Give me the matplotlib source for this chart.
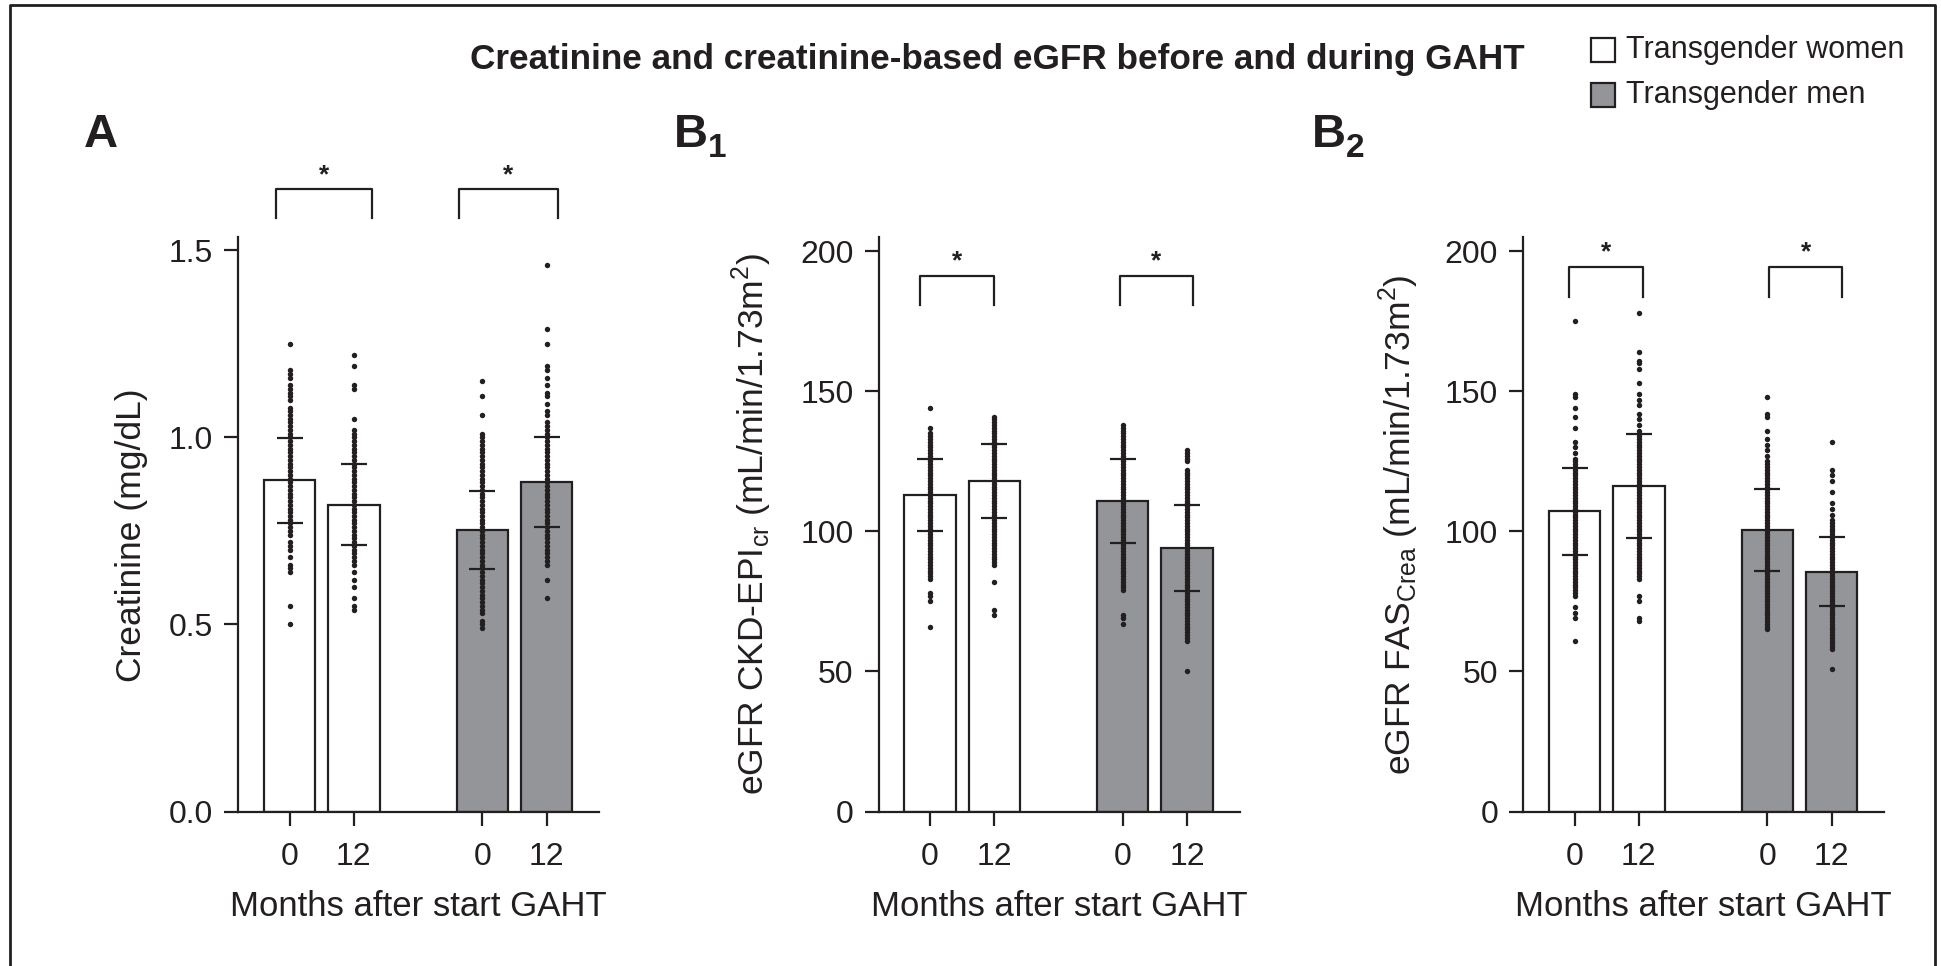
import matplotlib
matplotlib.use("Agg")
import matplotlib.pyplot as plt
from matplotlib.patches import Rectangle
from matplotlib.lines import Line2D

plt.rcParams['font.family'] = ['Liberation Sans', 'DejaVu Sans']
plt.rcParams['mathtext.fontset'] = 'custom'
plt.rcParams['mathtext.rm'] = 'Liberation Sans'

W, H = 1941, 966
INK = '#231f20'
GREY = '#939598'

# ---- data ----
groups = ["0", "12", "0", "12"]
positions = [0, 1, 3, 4]
colors = ['white', 'white', GREY, GREY]

crea_mean = [0.885, 0.82, 0.753, 0.881]
crea_sd = [0.113, 0.108, 0.104, 0.120]
ckd_mean = [113.0, 118.0, 111.0, 94.0]
ckd_sd = [13.0, 13.3, 15.0, 15.3]
fas_mean = [107.2, 116.3, 100.5, 85.6]
fas_sd = [15.5, 18.6, 14.8, 12.3]

crea_tw0 = [1.25, 1.18, 1.17, 1.16, 1.14, 1.13, 1.12, 1.11, 1.10, 1.08, 1.07, 1.06, 1.05, 1.04,
            1.03, 1.02, 1.01, 1.00, 0.99, 0.98, 0.97, 0.96, 0.95, 0.94, 0.93, 0.92, 0.91, 0.90,
            0.89, 0.88, 0.87, 0.86, 0.85, 0.84, 0.83, 0.82, 0.81, 0.80, 0.79, 0.78, 0.77, 0.76,
            0.75, 0.74, 0.72, 0.71, 0.70, 0.68, 0.66, 0.65, 0.64, 0.55, 0.50]
crea_tw12 = [1.22, 1.19, 1.14, 1.13, 1.05, 1.02, 1.01, 1.00, 0.99, 0.98, 0.97, 0.96, 0.95, 0.94,
             0.93, 0.92, 0.91, 0.90, 0.89, 0.88, 0.87, 0.86, 0.85, 0.84, 0.83, 0.82, 0.81, 0.80,
             0.79, 0.78, 0.77, 0.76, 0.75, 0.74, 0.73, 0.72, 0.71, 0.70, 0.69, 0.68, 0.67, 0.66,
             0.64, 0.62, 0.60, 0.57, 0.55, 0.54]
crea_tm0 = [1.15, 1.11, 1.06, 1.01, 1.00, 0.99, 0.98, 0.97, 0.96, 0.95, 0.94, 0.93, 0.92, 0.91,
            0.90, 0.89, 0.88, 0.87, 0.86, 0.85, 0.84, 0.83, 0.82, 0.81, 0.80, 0.79, 0.78, 0.77,
            0.76, 0.75, 0.74, 0.73, 0.72, 0.71, 0.70, 0.69, 0.68, 0.67, 0.66, 0.65, 0.64, 0.63,
            0.62, 0.61, 0.60, 0.59, 0.58, 0.57, 0.56, 0.55, 0.54, 0.53, 0.51, 0.50, 0.49]
crea_tm12 = [1.46, 1.29, 1.25, 1.19, 1.18, 1.16, 1.14, 1.12, 1.11, 1.09, 1.07, 1.06, 1.04, 1.03,
             1.02, 1.01, 1.00, 0.99, 0.98, 0.97, 0.96, 0.95, 0.94, 0.93, 0.92, 0.91, 0.90, 0.89,
             0.88, 0.87, 0.86, 0.85, 0.84, 0.83, 0.82, 0.81, 0.80, 0.79, 0.78, 0.77, 0.76, 0.75,
             0.74, 0.73, 0.72, 0.71, 0.70, 0.69, 0.68, 0.67, 0.66, 0.62, 0.57]

ckd_tw0 = [144, 137, 135, 134, 133, 132, 131, 130, 129, 128, 127, 126, 125, 124, 123, 122, 121,
           120, 119, 118, 117, 116, 115, 114, 113, 112, 111, 110, 109, 108, 107, 106, 105, 104,
           103, 102, 101, 100, 99, 98, 97, 96, 95, 94, 93, 92, 91, 90, 89, 88, 87, 86, 85, 84,
           83, 78, 77, 75, 66]
ckd_tw12 = [141, 140, 139, 138, 137, 136, 135, 134, 133, 132, 131, 130, 129, 128, 127, 126, 125,
            124, 123, 122, 121, 120, 119, 118, 117, 116, 115, 114, 113, 112, 111, 110, 109, 108,
            107, 106, 105, 104, 103, 102, 101, 100, 99, 98, 97, 96, 95, 94, 93, 92, 91, 90, 89,
            88, 82, 72, 70]
ckd_tm0 = [138, 137, 136, 135, 134, 133, 132, 131, 130, 129, 128, 127, 126, 125, 124, 123, 122,
           121, 120, 119, 118, 117, 116, 115, 114, 113, 112, 111, 110, 109, 108, 107, 106, 105,
           104, 103, 102, 101, 100, 99, 98, 97, 96, 95, 94, 93, 92, 91, 90, 89, 88, 87, 86, 85,
           84, 83, 82, 81, 80, 79, 70, 69, 67]
ckd_tm12 = [129, 128, 127, 126, 125, 122, 121, 120, 119, 118, 117, 116, 115, 114, 113, 112, 111,
            110, 109, 108, 107, 106, 105, 104, 103, 102, 101, 100, 99, 98, 97, 96, 95, 94, 93,
            92, 91, 90, 89, 88, 87, 86, 85, 84, 83, 82, 81, 80, 79, 78, 77, 76, 75, 74, 73, 72,
            71, 70, 69, 68, 67, 66, 65, 64, 63, 62, 61, 50]

fas_tw0 = [175, 149, 148, 144, 141, 137, 132, 130, 128, 126, 125, 124, 123, 122, 121, 120, 119,
           118, 117, 116, 115, 114, 113, 112, 111, 110, 109, 108, 107, 106, 105, 104, 103, 102,
           101, 100, 99, 98, 97, 96, 95, 94, 93, 92, 91, 90, 89, 88, 87, 86, 85, 84, 83, 82, 81,
           80, 79, 78, 77, 73, 71, 69, 61]
fas_tw12 = [178, 164, 161, 160, 158, 153, 149, 147, 145, 142, 140, 138, 136, 134, 133, 132, 131,
            130, 129, 128, 127, 126, 125, 124, 123, 122, 121, 120, 119, 118, 117, 116, 115, 114,
            113, 112, 111, 110, 109, 108, 107, 106, 105, 104, 103, 102, 101, 100, 99, 98, 97, 96,
            95, 94, 93, 92, 91, 90, 89, 88, 87, 86, 85, 84, 83, 77, 75, 69, 68]
fas_tm0 = [148, 142, 141, 136, 133, 131, 129, 127, 125, 124, 123, 122, 121, 120, 119, 118, 117,
           116, 115, 114, 113, 112, 111, 110, 109, 108, 107, 106, 105, 104, 103, 102, 101, 100,
           99, 98, 97, 96, 95, 94, 93, 92, 91, 90, 89, 88, 87, 86, 85, 84, 83, 82, 81, 80, 79, 78,
           77, 76, 75, 74, 73, 72, 71, 70, 69, 68, 67, 66, 65]
fas_tm12 = [132, 122, 120, 118, 114, 110, 108, 106, 104, 103, 102, 101, 100, 99, 98, 97, 96, 95,
            94, 93, 92, 91, 90, 89, 88, 87, 86, 85, 84, 83, 82, 81, 80, 79, 78, 77, 76, 75, 74, 73,
            72, 71, 70, 69, 68, 67, 66, 65, 64, 63, 62, 61, 60, 59, 58, 51]

panels = [
    dict(tag="A", sub="", mean=crea_mean, sd=crea_sd,
         pts=[crea_tw0, crea_tw12, crea_tm0, crea_tm12],
         ylabel="Creatinine (mg/dL)", ylim=1.535, yticks=[0, 0.5, 1.0, 1.5],
         yticklabels=["0.0", "0.5", "1.0", "1.5"],
         brackets=[(-0.22, 1.28), (2.63, 4.17)], br_y=(1.664, 1.586), star_y=1.70,
         left=238.3, ylab_x=-0.295, ylab_y=0.482, tag_x=84),
    dict(tag="B", sub="1", mean=ckd_mean, sd=ckd_sd,
         pts=[ckd_tw0, ckd_tw12, ckd_tm0, ckd_tm12],
         ylabel=r"eGFR CKD-EPI$_\mathregular{cr}$ (mL/min/1.73m$^\mathregular{2}$)",
         ylim=205, yticks=[0, 50, 100, 150, 200], yticklabels=["0", "50", "100", "150", "200"],
         brackets=[(-0.15, 1.0), (2.95, 4.1)], br_y=(191.2, 180.9), star_y=196.5,
         left=878.7, ylab_x=-0.35, ylab_y=0.50, tag_x=674),
    dict(tag="B", sub="2", mean=fas_mean, sd=fas_sd,
         pts=[fas_tw0, fas_tw12, fas_tm0, fas_tm12],
         ylabel=r"eGFR FAS$_\mathregular{Crea}$ (mL/min/1.73m$^\mathregular{2}$)",
         ylim=205, yticks=[0, 50, 100, 150, 200], yticklabels=["0", "50", "100", "150", "200"],
         brackets=[(-0.08, 1.06), (3.03, 4.17)], br_y=(194.4, 183.8), star_y=199.5,
         left=1523.2, ylab_x=-0.345, ylab_y=0.50, tag_x=1312),
]

fig = plt.figure(figsize=(W / 100, H / 100), dpi=100)

ax_w = 361 / W
ax_b = 1 - 811.5 / H
ax_h = (811.5 - 237.3) / H

for p in panels:
    ax = fig.add_axes([p["left"] / W, ax_b, ax_w, ax_h])
    ax.bar(positions, p["mean"], width=0.8, color=colors, edgecolor=INK, linewidth=1.6, zorder=2)
    for x, vals in zip(positions, p["pts"]):
        ax.plot([x] * len(vals), vals, 'o', ms=3.9, color=INK, mew=0, zorder=3)
    ax.errorbar(positions, p["mean"], yerr=p["sd"], fmt='none', ecolor=INK,
                elinewidth=1.6, capsize=9.7, capthick=1.6, zorder=4)
    ax.set_xlim(-0.8, 4.82)
    ax.set_ylim(0, p["ylim"])
    ax.set_xticks(positions)
    ax.set_xticklabels(groups)
    ax.set_yticks(p["yticks"])
    ax.set_yticklabels(p["yticklabels"])
    for s in ["top", "right"]:
        ax.spines[s].set_visible(False)
    for s in ["left", "bottom"]:
        ax.spines[s].set_linewidth(1.6)
        ax.spines[s].set_color(INK)
    ax.tick_params(axis='both', length=10, width=1.6, color=INK, labelsize=23, labelcolor=INK)
    ax.tick_params(axis='x', pad=12)
    ax.tick_params(axis='y', pad=8)
    ax.set_xlabel("Months after start GAHT", fontsize=25, color=INK)
    ax.xaxis.set_label_coords(0.5, -0.166)
    ax.xaxis.label.set_va('center')
    ax.set_ylabel(p["ylabel"], fontsize=25.5, color=INK)
    ax.yaxis.set_label_coords(p["ylab_x"], p["ylab_y"])
    ax.yaxis.label.set_va('center')

    top, leg = p["br_y"]
    for x0, x1 in p["brackets"]:
        ax.plot([x0, x0, x1, x1], [leg, top, top, leg], color=INK, lw=1.6,
                clip_on=False, zorder=5)
        ax.text((x0 + x1) / 2, p["star_y"], "*", ha='center', va='center',
                fontsize=19, fontweight='bold', color=INK, clip_on=False)

    fig.text(p["tag_x"] / W, 1 - 147 / H, p["tag"], fontsize=34, fontweight='bold',
             color=INK, ha='left', va='baseline')
    if p["sub"]:
        fig.text((p["tag_x"] + 34) / W, 1 - 157 / H, p["sub"], fontsize=24,
                 fontweight='bold', color=INK, ha='left', va='baseline')

fig.text(997.5 / W, 1 - 60 / H, "Creatinine and creatinine-based eGFR before and during GAHT",
         fontsize=25.3, fontweight='bold', color=INK, ha='center', va='center')

legend_items = [("Transgender women", 'white', 50), ("Transgender men", GREY, 95)]
for label, fc, yc in legend_items:
    fig.add_artist(Rectangle((1591 / W, 1 - (yc + 11.5) / H), 23.5 / W, 23 / H,
                             transform=fig.transFigure, facecolor=fc, edgecolor=INK, lw=1.6))
    fig.text(1626 / W, 1 - yc / H, label, fontsize=22, color=INK, ha='left', va='center')

# outer frame
frame = Line2D([10 / W, 10 / W, 1935 / W, 1935 / W], [0, 1 - 5 / H, 1 - 5 / H, 0],
               transform=fig.transFigure, color=INK, lw=2)
fig.add_artist(frame)

fig.savefig("out.png", dpi=100)
